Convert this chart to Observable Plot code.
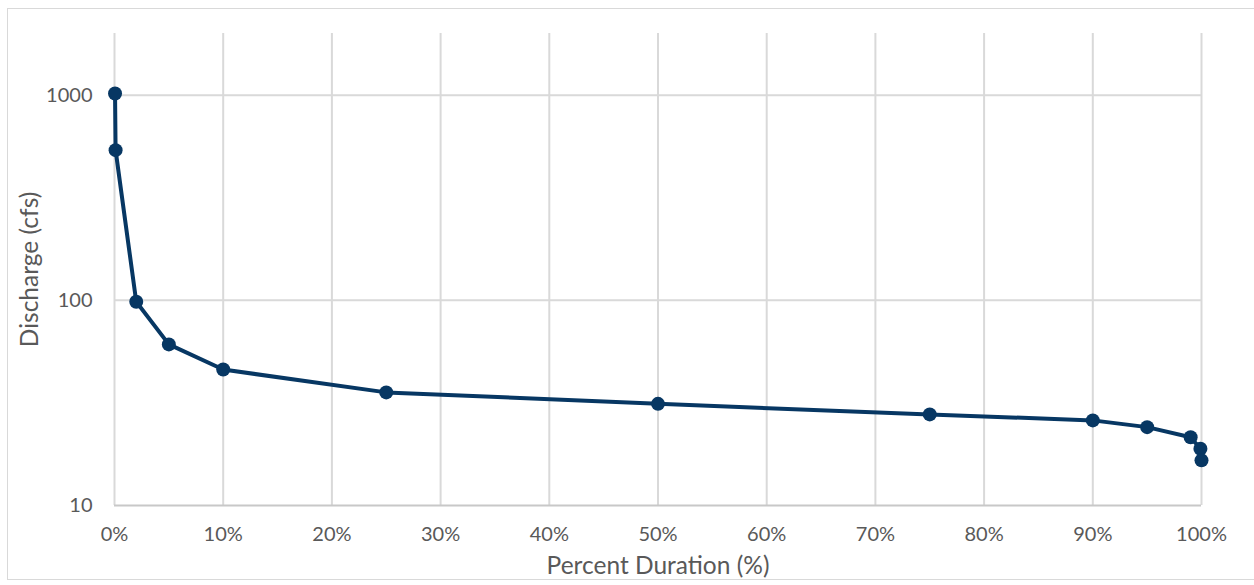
<!DOCTYPE html>
<html>
<head>
<meta charset="utf-8">
<script src="https://cdn.jsdelivr.net/npm/d3@7"></script>
<script src="https://cdn.jsdelivr.net/npm/@observablehq/plot@0.6"></script>
<style>
  html, body { margin: 0; padding: 0; background: #fff; }
  #wrap { position: relative; width: 1254px; height: 585px; overflow: hidden; }
  #frame { position: absolute; left: 7px; top: 8px; width: 1250px; height: 572px;
           border: 1.5px solid #d9d9d9; box-sizing: border-box; pointer-events: none; }
  #chart { position: absolute; left: 0; top: 0; }
</style>
</head>
<body>
<div id="wrap">
  <div id="chart"></div>
  <div id="frame"></div>
</div>
<script>
// Flow-duration curve: exceedance percentage vs. discharge
const percentDuration = [0.05, 0.1, 2, 5, 10, 25, 50, 75, 90, 95, 99, 99.9, 100];
const dischargeCfs    = [1020, 540, 98.5, 61, 46, 35.6, 31.3, 27.8, 26, 24.1, 21.5, 18.9, 16.6];

const xTicks = [0, 10, 20, 30, 40, 50, 60, 70, 80, 90, 100];
const yTicks = [10, 100, 1000];

const data = percentDuration.map((p, i) => ({ p, q: dischargeCfs[i] }));

const font = "Lato, 'Open Sans', sans-serif";
const textColor = "#595959";
const lineColor = "#073763";

const chart = Plot.plot({
  width: 1254,
  height: 585,
  marginLeft: 114,
  marginRight: 53,
  marginTop: 33,
  marginBottom: 80,
  style: { fontFamily: font, fontSize: "20px", color: textColor, background: "transparent" },
  x: { type: "linear", domain: [0, 100], label: null },
  y: { type: "log", domain: [10, 2000], label: null },
  marks: [
    Plot.gridX(xTicks, { stroke: "#d9d9d9", strokeOpacity: 1, strokeWidth: 2 }),
    Plot.gridY(yTicks.filter(d => d > 10), { stroke: "#d9d9d9", strokeOpacity: 1, strokeWidth: 2 }),
    Plot.ruleY([10], { stroke: "#c8c8c8", strokeWidth: 2 }),
    Plot.axisX(xTicks, {
      tickSize: 0, tickPadding: 21, tickFormat: d => d + "%",
      fill: textColor, fontSize: 20, label: null
    }),
    Plot.axisY(yTicks, {
      tickSize: 0, tickPadding: 22, tickFormat: d => String(d),
      fill: textColor, fontSize: 20, label: null
    }),
    // Axis titles
    Plot.text(["Percent Duration (%)"], {
      frameAnchor: "bottom", dy: 61, text: d => d, textAnchor: "middle",
      fontSize: 24.5, fill: textColor, lineAnchor: "middle"
    }),
    Plot.text(["Discharge (cfs)"], {
      frameAnchor: "left", dx: -84, text: d => d, rotate: -90, textAnchor: "middle",
      fontSize: 24.5, fill: textColor
    }),
    Plot.line(data, { x: "p", y: "q", stroke: lineColor, strokeWidth: 4, strokeLinejoin: "round" }),
    Plot.dot(data, { x: "p", y: "q", r: 7, fill: lineColor, stroke: "none" })
  ]
});

document.getElementById("chart").appendChild(chart);
</script>
</body>
</html>
